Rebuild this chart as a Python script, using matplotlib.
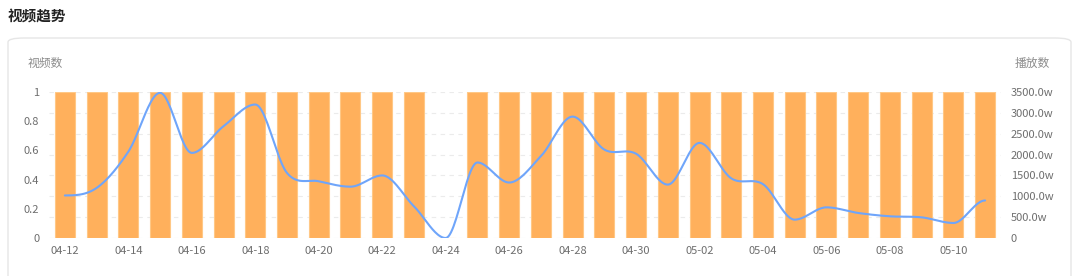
import numpy as np
import matplotlib
matplotlib.use("Agg")
import matplotlib.pyplot as plt
from matplotlib.patches import FancyBboxPatch

plt.rcParams["font.family"] = ["Noto Sans CJK SC", "DejaVu Sans"]

# data
dates = ["04-12", "04-13", "04-14", "04-15", "04-16", "04-17", "04-18", "04-19", "04-20", "04-21",
         "04-22", "04-23", "04-24", "04-25", "04-26", "04-27", "04-28", "04-29", "04-30", "05-01",
         "05-02", "05-03", "05-04", "05-05", "05-06", "05-07", "05-08", "05-09", "05-10", "05-11"]
video_counts = [1, 1, 1, 1, 1, 1, 1, 1, 1, 1,
                1, 1, 0, 1, 1, 1, 1, 1, 1, 1,
                1, 1, 1, 1, 1, 1, 1, 1, 1, 1]
plays_w = [1020, 1200, 2070, 3480, 2040, 2680, 3200, 1560, 1360, 1230,
           1500, 760, 0, 1810, 1330, 1960, 2910, 2120, 2020, 1280,
           2280, 1430, 1290, 440, 735, 600, 520, 495, 360, 900]
left_ticks = [0, 0.2, 0.4, 0.6, 0.8, 1]
right_ticks = [0, 500, 1000, 1500, 2000, 2500, 3000, 3500]

BAR = "#FFB05C"
LINE = "#6FA5FA"
TICK = "#6e6e6e"
GRID = "#ebebeb"


def smooth_curve(x, y, n=24):
    # cubic hermite, flat tangents at local extremes (echarts-like)
    x = np.asarray(x, float); y = np.asarray(y, float)
    m = np.zeros_like(y)
    for i in range(1, len(y) - 1):
        if (y[i] - y[i - 1]) * (y[i + 1] - y[i]) > 0:
            m[i] = (y[i + 1] - y[i - 1]) / 2
    xs, ys = [], []
    for i in range(len(y) - 1):
        t = np.linspace(0, 1, n, endpoint=False)
        h00 = 2 * t**3 - 3 * t**2 + 1; h10 = t**3 - 2 * t**2 + t
        h01 = -2 * t**3 + 3 * t**2; h11 = t**3 - t**2
        xs.append(x[i] + t * (x[i + 1] - x[i]))
        ys.append(h00 * y[i] + h10 * m[i] + h01 * y[i + 1] + h11 * m[i + 1])
    xs.append([x[-1]]); ys.append([y[-1]])
    return np.concatenate(xs), np.concatenate(ys)


fig = plt.figure(figsize=(10.8, 2.76), dpi=100)
fig.patch.set_facecolor("white")

# card
card = FancyBboxPatch((8 / 1080, -20 / 276), 1063 / 1080, (276 - 38 + 20) / 276,
                      boxstyle="round,pad=0,rounding_size=0.015", transform=fig.transFigure,
                      facecolor="white", edgecolor="#e6e6e6", linewidth=1, zorder=0)
fig.patches.append(card)

fig.text(8 / 1080, 1 - 17 / 276, "视频趋势", fontsize=10.5, fontweight="bold", color="#222222",
         va="center", ha="left")
fig.text(28 / 1080, 1 - 63 / 276, "视频数", fontsize=8.5, color="#8c8c8c", va="center", ha="left")
fig.text(1050 / 1080, 1 - 63 / 276, "播放数", fontsize=8.5, color="#8c8c8c", va="center", ha="right")

ax = fig.add_axes([49 / 1080, 38 / 276, 952 / 1080, 146 / 276])
ax2 = ax.twinx()
ax.set_zorder(1); ax2.set_zorder(2); ax.patch.set_visible(False)

xs = np.arange(len(dates))
ax.bar(xs, video_counts, width=0.63, color=BAR, edgecolor="#FFC886", linewidth=0.8, zorder=3)
ax.set_xlim(-0.5, len(dates) - 0.5)
ax.set_ylim(0, 1)
ax.set_yticks(left_ticks)
ax.set_yticklabels(["0", "0.2", "0.4", "0.6", "0.8", "1"])
ax.set_xticks(xs[::2])
ax.set_xticklabels(dates[::2])

cx, cy = smooth_curve(xs, plays_w)
ax2.plot(cx, cy, color=LINE, linewidth=1.5, zorder=4, solid_capstyle="round")
ax2.set_ylim(0, 3500)
ax2.set_yticks(right_ticks)
ax2.set_yticklabels(["0"] + [f"{v:.1f}w" for v in right_ticks[1:]])
for v in right_ticks:
    ax.axhline(v / 3500, color=GRID, lw=0.8, ls=(0, (4, 4)), zorder=1)

for a in (ax, ax2):
    for s in a.spines.values():
        s.set_visible(False)
    a.tick_params(length=0, labelsize=8, colors=TICK)
ax.tick_params(axis="y", pad=7)
ax.tick_params(axis="x", pad=6)
ax2.tick_params(axis="y", pad=7)

fig.savefig("out.png", dpi=100, facecolor="white")
